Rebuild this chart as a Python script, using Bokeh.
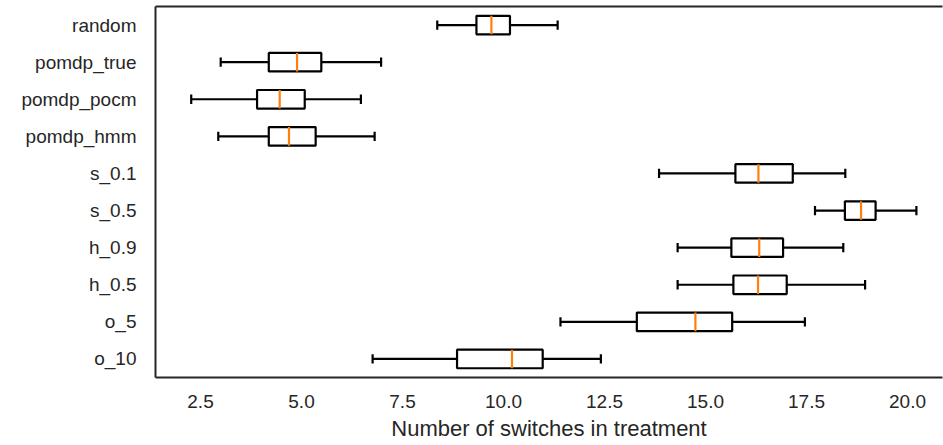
from bokeh.plotting import figure
from bokeh.models import (Range1d, FactorRange, LinearAxis, FixedTicker,
                          ColumnDataSource, NumeralTickFormatter)
from bokeh.embed import file_html
from bokeh.resources import INLINE

# Strategies, top to bottom
strategies = ["random", "pomdp_true", "pomdp_pocm", "pomdp_hmm", "s_0.1",
              "s_0.5", "h_0.9", "h_0.5", "o_5", "o_10"]

# Box-plot summary per strategy (number of treatment switches)
whisker_low = [8.36, 3.00, 2.27, 2.94, 13.85, 17.71, 14.31, 14.31, 11.41, 6.76]
q1 = [9.33, 4.19, 3.90, 4.19, 15.74, 18.45, 15.64, 15.69, 13.30, 8.85]
median = [9.70, 4.89, 4.46, 4.69, 16.31, 18.85, 16.33, 16.30, 14.75, 10.21]
q3 = [10.16, 5.49, 5.08, 5.35, 17.16, 19.21, 16.92, 17.01, 15.66, 10.97]
whisker_high = [11.34, 6.97, 6.47, 6.81, 18.46, 20.22, 18.41, 18.95, 17.46, 12.41]

x_ticks = [2.5, 5.0, 7.5, 10.0, 12.5, 15.0, 17.5, 20.0]
x_label = "Number of switches in treatment"

FONT = "Liberation Sans"
INK = "#262626"
BOX_W = 0.5
CAP_W = 0.25

p = figure(
    width=943, height=445,
    x_range=Range1d(1.386, 20.866),
    y_range=FactorRange(factors=list(reversed(strategies)), range_padding=0),
    output_backend="svg", toolbar_location=None,
    min_border_left=155, min_border_right=1, min_border_top=6, min_border_bottom=68,
    background_fill_color="white", border_fill_color="white",
)
p.outline_line_color = None
p.xgrid.visible = False
p.ygrid.visible = False

src = ColumnDataSource(dict(
    cat=strategies,
    lo=whisker_low, q1=q1, med=median, q3=q3, hi=whisker_high,
    cap_a=[(c, -CAP_W / 2) for c in strategies],
    cap_b=[(c, CAP_W / 2) for c in strategies],
    box_a=[(c, -BOX_W / 2) for c in strategies],
    box_b=[(c, BOX_W / 2) for c in strategies],
))

LW = 2.2
# whiskers
p.segment(x0="lo", y0="cat", x1="q1", y1="cat", source=src, line_color="black", line_width=LW)
p.segment(x0="q3", y0="cat", x1="hi", y1="cat", source=src, line_color="black", line_width=LW)
# caps
p.segment(x0="lo", y0="cap_a", x1="lo", y1="cap_b", source=src, line_color="black", line_width=LW)
p.segment(x0="hi", y0="cap_a", x1="hi", y1="cap_b", source=src, line_color="black", line_width=LW)
# boxes
p.hbar(y="cat", left="q1", right="q3", height=BOX_W, source=src,
       fill_color="white", line_color="black", line_width=LW)
# medians
p.segment(x0="med", y0="box_a", x1="med", y1="box_b", source=src,
          line_color="#ff7f0e", line_width=LW)

# x axis
xa = p.xaxis[0]
xa.ticker = FixedTicker(ticks=x_ticks)
xa.formatter = NumeralTickFormatter(format="0.0")
xa.axis_label = x_label
xa.axis_label_text_font = FONT
xa.axis_label_text_font_size = "22px"
xa.axis_label_text_font_style = "normal"
xa.axis_label_text_color = INK
xa.axis_label_standoff = 5
xa.major_label_text_font = FONT
xa.major_label_text_font_size = "19px"
xa.major_label_text_color = INK
xa.major_label_standoff = 17
xa.major_tick_out = 0
xa.major_tick_in = 0
xa.minor_tick_out = 0
xa.minor_tick_in = 0
xa.axis_line_color = INK
xa.axis_line_width = 2

# y axis
ya = p.yaxis[0]
ya.major_label_text_font = FONT
ya.major_label_text_font_size = "19px"
ya.major_label_text_color = INK
ya.major_label_standoff = 19
ya.major_tick_out = 0
ya.major_tick_in = 0
ya.axis_line_color = INK
ya.axis_line_width = 2

# top spine
top = LinearAxis(ticker=FixedTicker(ticks=[]), major_label_text_font_size="0px",
                 major_tick_out=0, major_tick_in=0, minor_tick_out=0, minor_tick_in=0,
                 axis_line_color=INK, axis_line_width=2, major_label_standoff=0)
p.add_layout(top, "above")

open("out.html", "w").write(file_html(p, INLINE))
